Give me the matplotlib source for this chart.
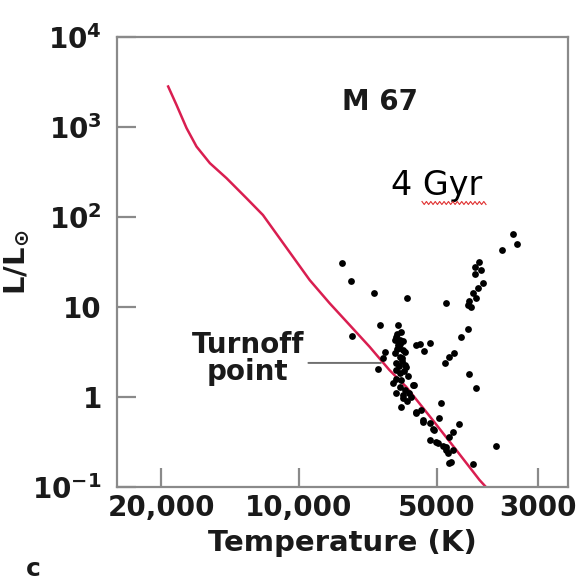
import numpy as np
import matplotlib
matplotlib.use("Agg")
import matplotlib.pyplot as plt
from matplotlib.ticker import NullLocator
from matplotlib.lines import Line2D

plt.rcParams['font.family'] = ['DejaVu Sans']
plt.rcParams['mathtext.fontset'] = 'dejavusans'

# zero-age main sequence track (temperature K, L/Lsun)
zams_temp = [19320, 18530, 17610, 16750, 15660, 14400, 13020, 11990,
             9475, 8570, 7750, 7010, 6340, 5830, 5100, 4530, 4030, 3900]
zams_lum = [2805, 1755, 967, 604, 395, 269, 161, 105,
            19.9, 11.0, 6.31, 3.62, 1.99, 1.30, 0.555, 0.258, 0.12, 0.1]

# M 67 member stars
star_temp = [8040, 7690, 6860, 5810, 4765, 7670, 6665, 6077, 5975,
             6130, 6026, 6077, 5928, 6180, 6026, 6500, 6555, 6722, 6130,
             5827, 6026, 6233, 6026, 5733, 5590, 5928, 6130, 5975, 4900,
             5540, 5360, 5180, 4930, 5055, 5180, 4972, 4765, 4610, 4690,
             4460, 4727, 4650, 4170, 3710, 4610, 5975, 5640, 5400, 5100,
             5010, 4850, 4765, 4690, 5685, 5876, 5960, 6090, 5910, 6180,
             6050, 5876, 6120, 5788, 5910, 5540, 5360,
             6000, 6100, 5950, 6050, 5900, 6150, 5850, 5800,
             5540, 5433, 5315, 5180, 4592, 4690, 4783, 4255, 4100, 4420,
             4276, 4200, 4240, 4100, 4170, 4066, 3950, 4114, 4000, 4114,
             4031, 3597, 3410, 3342, 4276]
star_lum = [31.0, 19.5, 14.2, 12.5, 11.2, 4.76, 6.27, 6.27, 5.31,
            4.68, 4.30, 3.78, 3.33, 3.06, 2.80, 3.19, 2.69, 2.03, 2.37,
            2.17, 1.83, 1.42, 1.30, 1.10, 1.35, 1.05, 1.10, 0.78, 0.85,
            0.686, 0.555, 0.510, 0.58, 0.43, 0.333, 0.306, 0.280, 0.258, 0.362,
            0.50, 0.237, 0.19, 0.18, 0.285, 0.41, 1.55, 1.36, 0.717, 0.438,
            0.318, 0.285, 0.258, 0.186, 1.01, 2.27, 2.7, 5.0, 4.2, 4.3,
            3.5, 3.15, 2.0, 1.7, 0.98, 0.66, 0.53,
            3.9, 3.4, 2.5, 2.2, 1.95, 1.6, 1.2, 0.9,
            3.78, 3.85, 3.27, 3.95, 3.06, 2.75, 2.40, 1.79, 1.25, 4.61,
            5.65, 9.93, 11.5, 12.5, 14.2, 16.1, 18.3, 23.3, 25.8, 27.6,
            31.8, 43.0, 64.7, 50.1, 10.5]

x_ticks = [20000, 10000, 5000, 3000]
x_labels = ['20,000', '10,000', '5000', '3000']
y_ticks = [0.1, 1, 10, 100, 1000, 10000]
y_labels = [r'$\mathbf{10^{-1}}$', '1', '10', r'$\mathbf{10^{2}}$',
            r'$\mathbf{10^{3}}$', r'$\mathbf{10^{4}}$']

fig = plt.figure(figsize=(5.82, 5.84), dpi=100)
ax = fig.add_axes([0.201, 0.166, 0.775, 0.771])

ax.plot(zams_temp, zams_lum, color='#d91e50', lw=1.8, zorder=2,
        solid_joinstyle='round')
ax.scatter(star_temp, star_lum, s=24, color='black', zorder=3, linewidths=0)

ax.set_xscale('log')
ax.set_yscale('log')
ax.set_xlim(25000, 2580)
ax.set_ylim(0.1, 10000)
ax.set_xticks(x_ticks)
ax.set_xticklabels(x_labels)
ax.set_yticks(y_ticks)
ax.set_yticklabels(y_labels)
ax.xaxis.set_minor_locator(NullLocator())
ax.yaxis.set_minor_locator(NullLocator())

for sp in ax.spines.values():
    sp.set_color('#8a8a8a')
    sp.set_linewidth(1.6)
ax.tick_params(direction='in', length=14, width=1.6, color='#8a8a8a',
               labelsize=20, top=False, right=False)
ax.tick_params(axis='x', pad=5)
ax.tick_params(axis='y', pad=11)
for lab in ax.get_xticklabels() + ax.get_yticklabels():
    lab.set_fontweight('bold')
    lab.set_color('#1a1a1a')

ax.set_xlabel('Temperature (K)', fontsize=21, fontweight='bold', labelpad=5,
              color='#1a1a1a')
ax.set_ylabel(r'$\mathbf{L/L_{\odot}}$', fontsize=21, labelpad=0, color='#1a1a1a')

ax.text(0.583, 0.838, 'M 67', transform=ax.transAxes, fontsize=20,
        fontweight='bold', ha='center', va='baseline', color='#1a1a1a')
ax.text(0.708, 0.649, '4 Gyr', transform=ax.transAxes, fontsize=24,
        ha='center', va='baseline', color='black')

ax.text(0.29, 0.285, 'Turnoff\npoint', transform=ax.transAxes, fontsize=20,
        fontweight='bold', ha='center', va='center', linespacing=0.95,
        color='#1a1a1a')
ax.annotate('', xy=(6530, 2.39), xytext=(9670, 2.39),
            arrowprops=dict(arrowstyle='-', color='#707070', lw=1.4))

# red spell-check squiggle under "Gyr"
sx = np.linspace(422, 486, 30)
sy = 584 - 203 + 1.5 * np.where(np.arange(30) % 2 == 0, 1, -1)
fig.add_artist(Line2D(sx / 582, sy / 584, color='#e03030', lw=0.8))

fig.text(33 / 582, 1 - 569 / 584, 'c', fontsize=18, fontweight='bold',
         ha='center', va='center', color='#1a1a1a')

fig.savefig('out.png', dpi=100)
plt.close(fig)
